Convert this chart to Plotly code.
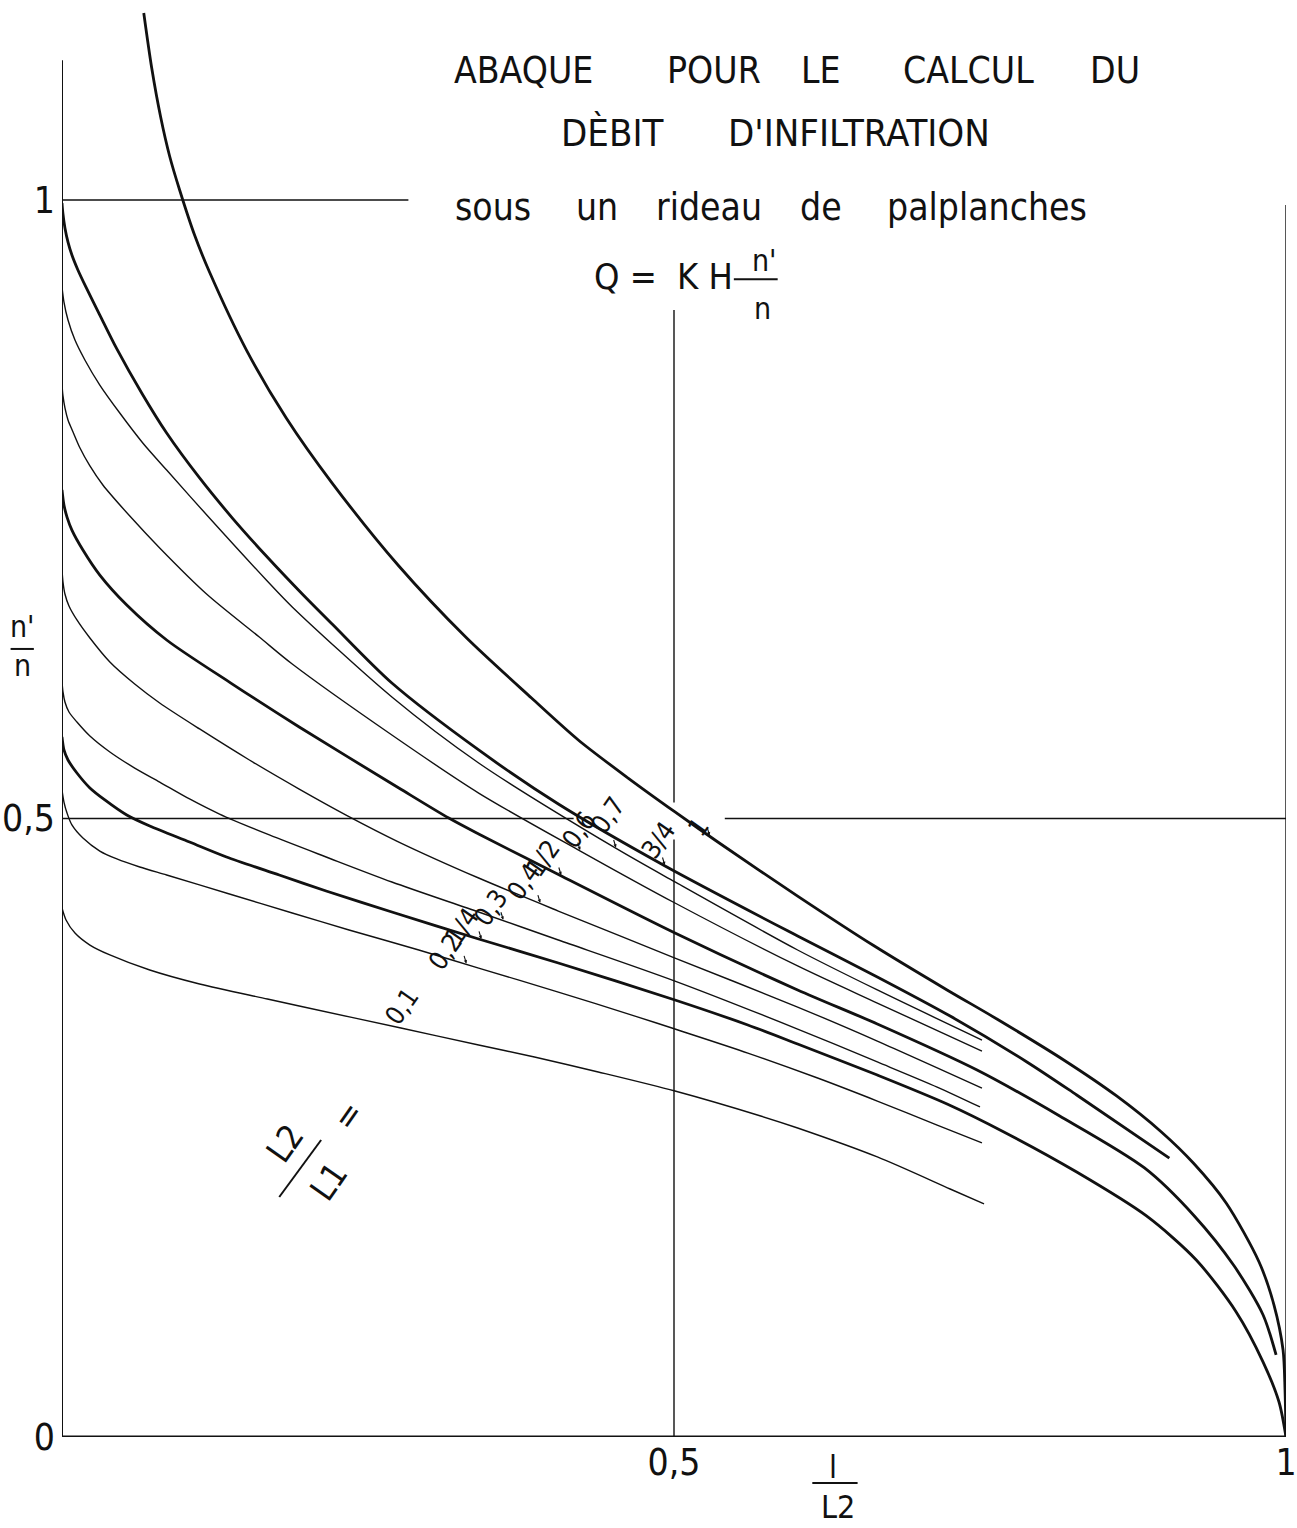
import numpy as np
import plotly.graph_objects as go

# Abscissa l/L2 and ordinate n'/n of each curve, one pair per value of L2/L1
X_01 = [0, 0.0033, 0.0106, 0.0228, 0.0391, 0.0717, 0.1124, 0.1678, 0.1938, 0.2769, 0.3404, 0.3860, 0.4381, 0.5008, 0.5708, 0.6010, 0.6661, 0.7256, 0.7533]
Y_01 = [0.4277, 0.4180, 0.4074, 0.3977, 0.3897, 0.3775, 0.3662, 0.3541, 0.3484, 0.3306, 0.3169, 0.3072, 0.2951, 0.2797, 0.2595, 0.2498, 0.2264, 0.2005, 0.1884]

X_02 = [0, 0.0016, 0.0041, 0.0081, 0.0171, 0.0309, 0.0448, 0.0635, 0.0855, 0.1368, 0.1881, 0.2345, 0.2915, 0.3404, 0.4055, 0.4707, 0.5008, 0.5603, 0.6173, 0.6661, 0.7150, 0.7516]
Y_02 = [0.5230, 0.5133, 0.5044, 0.4948, 0.4842, 0.4737, 0.4673, 0.4608, 0.4543, 0.4390, 0.4236, 0.4099, 0.3937, 0.3791, 0.3597, 0.3395, 0.3298, 0.3104, 0.2902, 0.2716, 0.2522, 0.2377]

X_025 = [0, 0.0016, 0.0049, 0.0122, 0.0228, 0.0350, 0.0529, 0.0717, 0.1042, 0.1344, 0.1775, 0.2158, 0.2695, 0.3404, 0.4055, 0.5008, 0.5603, 0.6010, 0.6661, 0.7231, 0.7695, 0.8290, 0.8860, 0.9267, 0.9593, 0.9813, 0.9943, 1.0]
Y_025 = [0.5659, 0.5554, 0.5473, 0.5368, 0.5247, 0.5150, 0.5028, 0.4939, 0.4810, 0.4689, 0.4543, 0.4414, 0.4244, 0.4026, 0.3832, 0.3533, 0.3331, 0.3177, 0.2926, 0.2692, 0.2466, 0.2142, 0.1787, 0.1431, 0.1011, 0.0606, 0.0283, 0.0]

X_03 = [0, 0.0008, 0.0024, 0.0057, 0.0122, 0.0228, 0.0391, 0.0594, 0.0798, 0.1042, 0.1287, 0.1694, 0.2158, 0.2695, 0.3404, 0.4055, 0.5008, 0.6010, 0.6661, 0.7150, 0.7500]
Y_03 = [0.6103, 0.6023, 0.5942, 0.5861, 0.5780, 0.5667, 0.5538, 0.5408, 0.5295, 0.5158, 0.5036, 0.4867, 0.4689, 0.4487, 0.4244, 0.4018, 0.3686, 0.3298, 0.3032, 0.2829, 0.2668]

X_04 = [0, 0.0008, 0.0024, 0.0057, 0.0122, 0.0228, 0.0391, 0.0594, 0.0798, 0.1124, 0.1531, 0.1938, 0.2321, 0.2752, 0.3404, 0.4055, 0.5008, 0.6010, 0.6661, 0.7516]
Y_04 = [0.7009, 0.6912, 0.6815, 0.6718, 0.6605, 0.6459, 0.6265, 0.6087, 0.5934, 0.5724, 0.5473, 0.5238, 0.5028, 0.4810, 0.4519, 0.4252, 0.3872, 0.3476, 0.3201, 0.2821]

X_05 = [0, 0.0016, 0.0041, 0.0081, 0.0171, 0.0309, 0.0529, 0.0855, 0.1392, 0.1938, 0.2752, 0.3160, 0.3404, 0.4080, 0.5008, 0.6010, 0.6661, 0.7476, 0.8151, 0.8844, 0.9251, 0.9577, 0.9813, 0.9919]
Y_05 = [0.7656, 0.7534, 0.7437, 0.7332, 0.7171, 0.6968, 0.6726, 0.6443, 0.6087, 0.5740, 0.5247, 0.5004, 0.4875, 0.4535, 0.4074, 0.3614, 0.3339, 0.2967, 0.2595, 0.2175, 0.1787, 0.1382, 0.0986, 0.0663]

X_06 = [0, 0.0008, 0.0024, 0.0049, 0.0090, 0.0147, 0.0228, 0.0334, 0.0554, 0.0798, 0.1181, 0.1612, 0.1881, 0.2695, 0.3404, 0.4235, 0.5008, 0.6010, 0.6661, 0.7516]
Y_06 = [0.8504, 0.8416, 0.8319, 0.8222, 0.8125, 0.7995, 0.7850, 0.7696, 0.7445, 0.7187, 0.6815, 0.6467, 0.6249, 0.5675, 0.5206, 0.4737, 0.4317, 0.3808, 0.3508, 0.3120]

X_07 = [0, 0.0016, 0.0049, 0.0106, 0.0187, 0.0309, 0.0472, 0.0660, 0.0855, 0.1205, 0.1669, 0.1881, 0.2695, 0.3404, 0.4520, 0.5008, 0.6010, 0.6661, 0.7516]
Y_07 = [0.9297, 0.9175, 0.9030, 0.8868, 0.8707, 0.8504, 0.8278, 0.8036, 0.7817, 0.7429, 0.6928, 0.6710, 0.5982, 0.5449, 0.4762, 0.4487, 0.3937, 0.3614, 0.3209]

X_075 = [0, 0.0008, 0.0024, 0.0049, 0.0081, 0.0130, 0.0195, 0.0309, 0.0448, 0.0651, 0.0855, 0.1124, 0.1392, 0.1669, 0.1963, 0.2207, 0.2695, 0.3404, 0.4055, 0.4927, 0.6010, 0.6661, 0.7256, 0.7883, 0.8290, 0.9047]
Y_075 = [0.9976, 0.9887, 0.9774, 0.9660, 0.9555, 0.9434, 0.9297, 0.9070, 0.8796, 0.8440, 0.8116, 0.7753, 0.7429, 0.7122, 0.6815, 0.6572, 0.6095, 0.5554, 0.5117, 0.4616, 0.4050, 0.3719, 0.3403, 0.3032, 0.2765, 0.2255]

X_1 = [0.0668, 0.0733, 0.0806, 0.0879, 0.0961, 0.1083, 0.1205, 0.1507, 0.1832, 0.2207, 0.2752, 0.3298, 0.3836, 0.4218, 0.4625, 0.5008, 0.5358, 0.6010, 0.6637, 0.7231, 0.7638, 0.8184, 0.8616, 0.8982, 0.9243, 0.9511, 0.9780, 0.9902, 0.9976, 0.9992, 1.0]
Y_1 = [1.1512, 1.1067, 1.0671, 1.0356, 1.0081, 0.9717, 0.9418, 0.8787, 0.8238, 0.7712, 0.7041, 0.6467, 0.5974, 0.5635, 0.5327, 0.5053, 0.4810, 0.4373, 0.3969, 0.3614, 0.3379, 0.3048, 0.2757, 0.2466, 0.2215, 0.1892, 0.1415, 0.1067, 0.0703, 0.0380, 0.0]

# Curve labels (L2/L1), where each is written, and the abscissa its pointer touches
LABELS = ["0,1", "0,2", "1/4", "0,3", "0,4", "1/2", "0,6", "0,7", "3/4", "1"]
LABEL_X = [0.277, 0.313, 0.327, 0.350, 0.377, 0.393, 0.422, 0.446, 0.487, 0.520]
LABEL_Y = [0.348, 0.392, 0.413, 0.428, 0.449, 0.468, 0.491, 0.503, 0.483, 0.493]
POINTER_X = [None, 0.3306, 0.3428, 0.3607, 0.3909, 0.4080, 0.4235, 0.4528, 0.4927, 0.5293]

X_TICKS = [0.5, 1]
X_TICK_TEXT = ["0,5", "1"]
Y_TICKS = [0, 0.5, 1]
Y_TICK_TEXT = ["0", "0,5", "1"]

FONT = "Liberation Sans Narrow, DejaVu Sans Condensed, Arial Narrow, sans-serif"
INK = "#111111"
THIN, THICK = 1.4, 2.8

curves = [
    (X_01, Y_01, THIN), (X_02, Y_02, THIN), (X_025, Y_025, THICK),
    (X_03, Y_03, THIN), (X_04, Y_04, THIN), (X_05, Y_05, THICK),
    (X_06, Y_06, THIN), (X_07, Y_07, THIN), (X_075, Y_075, THICK),
    (X_1, Y_1, THICK),
]

fig = go.Figure()
for (xs, ys, w), name in zip(curves, LABELS):
    fig.add_trace(go.Scatter(
        x=xs, y=ys, mode="lines", name=name, showlegend=False,
        line=dict(color=INK, width=w, shape="spline", smoothing=0.8),
        hoverinfo="skip",
    ))


def seg(x0, y0, x1, y1, w=1.4):
    fig.add_shape(type="line", xref="x", yref="y", x0=x0, y0=y0, x1=x1, y1=y1,
                  line=dict(color=INK, width=w), layer="above")


# Frame and reference lines of the abacus
seg(0, 0, 1, 0, 3)            # abscissa axis
seg(0, 0, 0, 1.113, 2)        # ordinate axis
seg(1, 0, 1, 0.996)           # l/L2 = 1
seg(0.5, 0, 0.5, 0.483)       # l/L2 = 0.5
seg(0.5, 0.513, 0.5, 0.911)
seg(0, 1, 0.283, 1)           # n'/n = 1
seg(0, 0.5, 0.418, 0.5)       # n'/n = 0.5
seg(0.5415, 0.5, 1, 0.5)

annotations = []


def text(txt, x, y, size, xanchor="center", angle=0, ref="data"):
    xr, yr = ("x", "y") if ref == "data" else ("paper", "paper")
    annotations.append(dict(x=x, y=y, xref=xr, yref=yr, text=txt, showarrow=False,
                            xanchor=xanchor, yanchor="middle", textangle=angle,
                            font=dict(family=FONT, size=size, color=INK)))


# Oblique curve labels with their small pointers onto the curves
for (xs, ys, _), txt, lx, ly, px in zip(curves, LABELS, LABEL_X, LABEL_Y, POINTER_X):
    text(txt, lx, ly, 26, angle=-55)
    if px is not None:
        annotations.append(dict(x=px, y=float(np.interp(px, xs, ys)), xref="x", yref="y",
                                text="", showarrow=True, arrowhead=2, arrowsize=0.6,
                                arrowwidth=1.1, arrowcolor=INK, ax=-3, ay=-10, standoff=1))

# Title block
for txt, x in [("ABAQUE", 0.377), ("POUR", 0.5326), ("LE", 0.6197), ("CALCUL", 0.7402), ("DU", 0.8599)]:
    text(txt, x, 1.1051, 37)
for txt, x in [("DÈBIT", 0.4495), ("D'INFILTRATION", 0.6515)]:
    text(txt, x, 1.0542, 38)
for txt, x in [("sous", 0.3518), ("un", 0.4373), ("rideau", 0.5285), ("de", 0.6197), ("palplanches", 0.7557)]:
    text(txt, x, 0.994, 37)
text("Q =", 0.4605, 0.938, 36)
text("K H", 0.5253, 0.938, 36)
text("n'", 0.5740, 0.951, 30)
text("n", 0.5725, 0.912, 30)
seg(0.5489, 0.936, 0.5847, 0.936, 2)

# L2/L1 = written obliquely
text("L2", 0.182, 0.238, 34, angle=-55)
text("L1", 0.218, 0.207, 34, angle=-55)
seg(0.1775, 0.194, 0.2117, 0.2401, 2)
text("=", 0.234, 0.260, 34, angle=-55)

# Axis titles n'/n and l/L2
text("n'", -0.0326, 0.564, 30, ref="paper")
text("n", -0.0326, 0.537, 30, ref="paper")
fig.add_shape(type="line", xref="paper", yref="paper", x0=-0.042, x1=-0.023, y0=0.5484, y1=0.5484,
              line=dict(color=INK, width=2))
text("l", 0.630, -0.0209, 32, ref="paper")
text("L2", 0.634, -0.0487, 32, ref="paper")
fig.add_shape(type="line", xref="paper", yref="paper", x0=0.613, x1=0.650, y0=-0.032, y1=-0.032,
              line=dict(color=INK, width=2))

fig.update_layout(
    width=1297, height=1528,
    margin=dict(l=62, r=7, t=0, b=91),
    paper_bgcolor="white", plot_bgcolor="white",
    annotations=annotations,
    xaxis=dict(range=[0, 1], showgrid=False, zeroline=False, showline=False,
               tickvals=X_TICKS, ticktext=X_TICK_TEXT, ticks="", ticklabeloverflow="allow",
               tickfont=dict(family=FONT, size=37, color=INK)),
    yaxis=dict(range=[0, 1.1617], showgrid=False, zeroline=False, showline=False,
               tickvals=Y_TICKS, ticktext=Y_TICK_TEXT, ticks="", ticklabelstandoff=6,
               tickfont=dict(family=FONT, size=37, color=INK)),
)

fig.write_html("out.html")
